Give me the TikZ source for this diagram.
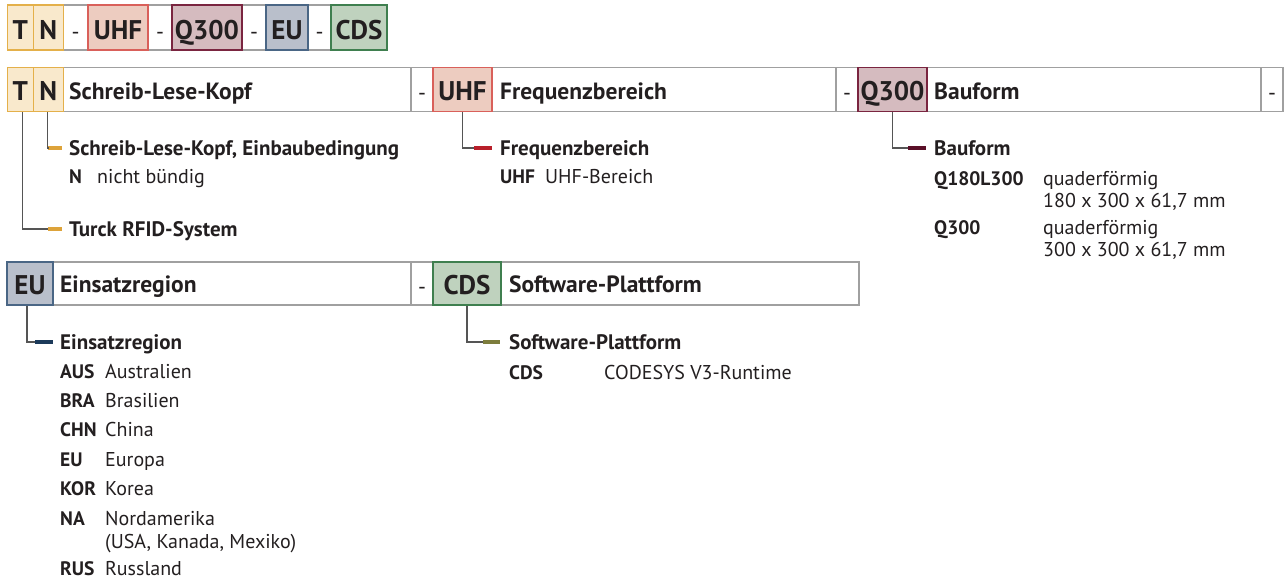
\documentclass[tikz,border=0pt]{standalone}
\usepackage{fontspec}
\setmainfont{PT Sans}
\definecolor{txtc}{HTML}{231F20}
\definecolor{framec}{HTML}{A0A0A0}
\definecolor{connc}{HTML}{555555}
\definecolor{goldF}{HTML}{F9E9CC}\definecolor{goldD}{HTML}{E4B04A}\definecolor{goldB}{HTML}{DDA33A}
\definecolor{redF}{HTML}{EDCCC0}\definecolor{redD}{HTML}{D9605A}\definecolor{redB}{HTML}{B81F2A}
\definecolor{marF}{HTML}{D5BBBF}\definecolor{marD}{HTML}{7A2540}\definecolor{marB}{HTML}{5A0F28}
\definecolor{bluF}{HTML}{B9BFCB}\definecolor{bluD}{HTML}{4A6685}\definecolor{bluB}{HTML}{1C3A5A}
\definecolor{grnF}{HTML}{BFD2BE}\definecolor{grnD}{HTML}{3F7F4F}\definecolor{oliB}{HTML}{7D7D3D}
\begin{document}
\begin{tikzpicture}[x=1pt,y=-1pt,
  cell/.style={draw=framec, line width=1.3pt, fill=white, inner sep=0pt, text=txtc,
     font=\fontsize{22}{24}\selectfont},
  codebox/.style={line width=1.3pt, inner sep=0pt, text=txtc, font=\fontsize{27}{29}\bfseries\selectfont},
  top/.style={text height=24pt, text depth=0pt},
  mid/.style={text height=21pt, text depth=0pt},
  hdr/.style={anchor=base west, inner sep=0pt, text=txtc, font=\fontsize{23.5}{26}\bfseries\selectfont},
  lab/.style={anchor=base west, inner sep=0pt, text=txtc, font=\fontsize{21}{24}\bfseries\selectfont},
  key/.style={anchor=base west, inner sep=0pt, text=txtc, font=\fontsize{19.5}{22}\bfseries\selectfont},
  val/.style={anchor=base west, inner sep=0pt, text=txtc, font=\fontsize{20}{22}\selectfont},
  bar/.style={inner sep=0pt, minimum height=4pt, draw=none},
  conn/.style={draw=connc, line width=1.3pt}
]
\useasboundingbox (0,0) rectangle (1285,578);

% ---------- top row ----------
\node[cell, top, minimum width=25pt, minimum height=45pt] (d1) at (75.5,27.5) {-};
\node[cell, top, minimum width=24pt, minimum height=45pt] (d2) at (160,27.5) {-};
\node[cell, top, minimum width=24pt, minimum height=45pt] (d3) at (254,27.5) {-};
\node[cell, top, minimum width=23pt, minimum height=45pt] (d4) at (319.5,27.5) {-};
\node[codebox, top, fill=goldF, draw=goldD, minimum width=26pt, minimum height=45pt] (tT) at (20.3,27.5) {T};
\node[codebox, top, fill=goldF, draw=goldD, minimum width=30pt, minimum height=45pt] (tN) at (48.3,27.5) {N};
\node[codebox, top, fill=redF, draw=redD, minimum width=60pt, minimum height=45pt] (tU) at (118,27.5) {UHF};
\node[codebox, top, fill=marF, draw=marD, minimum width=70pt, minimum height=45pt] (tQ) at (207,27.5) {Q300};
\node[codebox, top, fill=bluF, draw=bluD, minimum width=42pt, minimum height=45pt] (tE) at (287,27.5) {EU};
\node[codebox, top, fill=grnF, draw=grnD, minimum width=56pt, minimum height=45pt] (tC) at (359,27.5) {CDS};

% ---------- second row ----------
\node[cell, minimum width=348pt, minimum height=44pt] (c1) at (237,89.5) {};
\node[cell, mid, minimum width=22pt, minimum height=44pt] (e1) at (422,89.5) {-};
\node[cell, minimum width=344pt, minimum height=44pt] (c2) at (664,89.5) {};
\node[cell, mid, minimum width=22pt, minimum height=44pt] (e2) at (847,89.5) {-};
\node[cell, minimum width=334pt, minimum height=44pt] (c3) at (1094,89.5) {};
\node[cell, mid, minimum width=22pt, minimum height=44pt] (e3) at (1272,89.5) {-};
\node[codebox, mid, fill=goldF, draw=goldD, minimum width=26pt, minimum height=44pt] (bT) at (20.3,89.5) {T};
\node[codebox, mid, fill=goldF, draw=goldD, minimum width=30pt, minimum height=44pt] (bN) at (48.3,89.5) {N};
\node[codebox, mid, fill=redF, draw=redD, minimum width=59pt, minimum height=44pt] (bU) at (462.5,89.5) {UHF};
\node[codebox, mid, fill=marF, draw=marD, minimum width=69pt, minimum height=44pt] (bQ) at (892.5,89.5) {Q300};
\node[hdr] (h1) at (69,99.5) {Schreib-Lese-Kopf};
\node[hdr] (h2) at (500,99.5) {Frequenzbereich};
\node[hdr] (h3) at (934,99.5) {Bauform};

% ---------- third row ----------
\node[cell, minimum width=359pt, minimum height=43pt] (c4) at (232.5,283.5) {};
\node[cell, mid, minimum width=22pt, minimum height=43pt] (e4) at (422,283.5) {-};
\node[cell, minimum width=358pt, minimum height=43pt] (c5) at (680,283.5) {};
\node[codebox, mid, fill=bluF, draw=bluD, minimum width=46pt, minimum height=43pt] (bE) at (30,283.5) {EU};
\node[codebox, mid, fill=grnF, draw=grnD, minimum width=68pt, minimum height=43pt] (bC) at (467,283.5) {CDS};
\node[hdr] (h4) at (60,292.5) {Einsatzregion};
\node[hdr] (h5) at (509,292.5) {Software-Plattform};

% ---------- bars ----------
\node[bar, fill=goldB, minimum width=14pt] (rN) at (55,148) {};
\node[bar, fill=goldB, minimum width=14pt] (rT) at (55,229) {};
\node[bar, fill=redB, minimum width=18pt] (rU) at (483,148) {};
\node[bar, fill=marB, minimum width=18pt] (rQ) at (917,148) {};
\node[bar, fill=bluB, minimum width=18pt] (rE) at (44,342) {};
\node[bar, fill=oliB, minimum width=17pt] (rC) at (491.5,342) {};

% ---------- connectors ----------
\draw[conn] ([xshift=2.4pt]bT.south) |- (rT.west);
\draw[conn] ([xshift=-0.6pt]bN.south) |- (rN.west);
\draw[conn] (bU.south) |- (rU.west);
\draw[conn] (bQ.south) |- (rQ.west);
\draw[conn] ([xshift=-3pt]bE.south) |- (rE.west);
\draw[conn] (bC.south) |- (rC.west);

% ---------- descriptions ----------
\node[lab] (lN) at (69,155.5) {Schreib-Lese-Kopf, Einbaubedingung};
\node[key] (kN) at (69,183.5) {N};
\node[val] (vN) at (97,183.5) {nicht bündig};
\node[lab] (lT) at (69,236) {Turck RFID-System};

\node[lab] (lU) at (500,155.5) {Frequenzbereich};
\node[key] (kU) at (500,183.5) {UHF};
\node[val] (vU) at (545,183.5) {UHF-Bereich};

\node[lab] (lQ) at (934,155.5) {Bauform};
\node[key] (kQ1) at (934,185) {Q180L300};
\node[val] (vQ1) at (1043,185) {quaderförmig};
\node[val] (vQ1b) at (1043,207.5) {180 x 300 x 61,7 mm};
\node[key] (kQ2) at (934,234) {Q300};
\node[val] (vQ2) at (1043,234) {quaderförmig};
\node[val] (vQ2b) at (1043,256.5) {300 x 300 x 61,7 mm};

\node[lab] (lE) at (60,349) {Einsatzregion};
\node[key] (k1) at (60,378) {AUS};  \node[val] (v1) at (105,378) {Australien};
\node[key] (k2) at (60,407.5) {BRA}; \node[val] (v2) at (105,407.5) {Brasilien};
\node[key] (k3) at (60,436.5) {CHN}; \node[val] (v3) at (105,436.5) {China};
\node[key] (k4) at (60,466) {EU};   \node[val] (v4) at (105,466) {Europa};
\node[key] (k5) at (60,495) {KOR};  \node[val] (v5) at (105,495) {Korea};
\node[key] (k6) at (60,525) {NA};   \node[val] (v6) at (105,525) {Nordamerika};
\node[val] (v6b) at (105,548) {(USA, Kanada, Mexiko)};
\node[key] (k7) at (60,575) {RUS};  \node[val] (v7) at (105,575) {Russland};

\node[lab] (lC) at (509,349) {Software-Plattform};
\node[key] (kC) at (509,379) {CDS};
\node[val] (vC) at (604,379) {CODESYS V3-Runtime};
\end{tikzpicture}
\end{document}
